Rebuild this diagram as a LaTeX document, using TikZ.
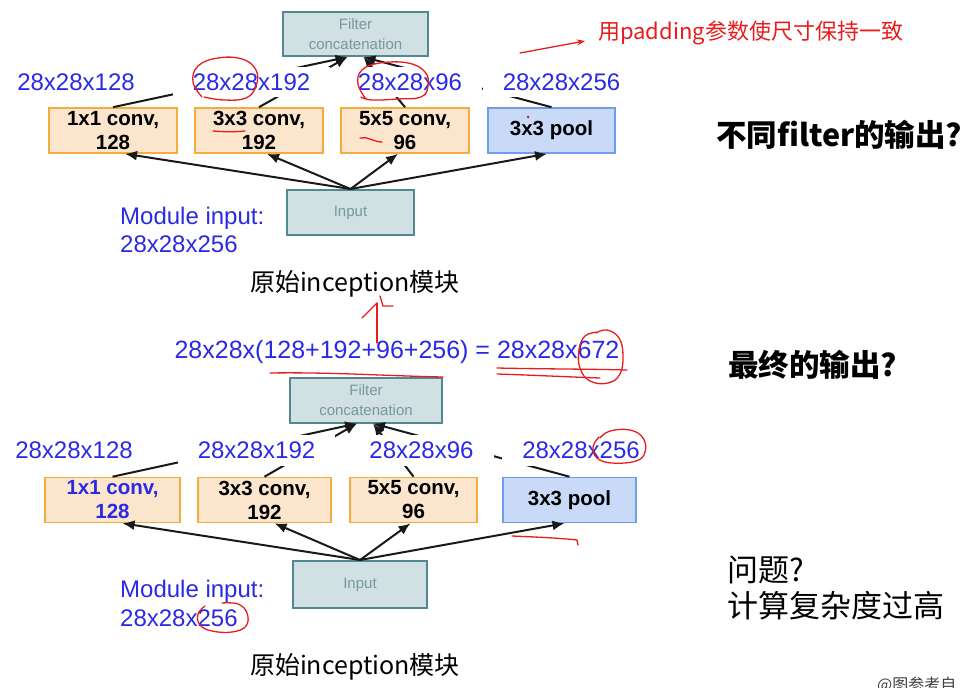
\documentclass[tikz,border=0pt]{standalone}
\usepackage{fontspec}
\setmainfont{Liberation Sans}
\newfontfamily\cjk{Noto Sans CJK SC}
\usetikzlibrary{arrows.meta}

\definecolor{dimblue}{RGB}{42,42,228}
\definecolor{convfill}{RGB}{252,229,205}
\definecolor{convdraw}{RGB}{243,172,62}
\definecolor{poolfill}{RGB}{201,218,248}
\definecolor{pooldraw}{RGB}{109,158,235}
\definecolor{tealfill}{RGB}{208,224,227}
\definecolor{tealdraw}{RGB}{82,136,146}
\definecolor{tealtext}{RGB}{120,152,158}
\definecolor{penred}{RGB}{232,28,28}

\tikzset{
  dimlabel/.style={fill=white, text=dimblue, inner xsep=20pt, inner ysep=7pt,
    font=\fontsize{24}{28}\selectfont},
  convbox/.style={draw=convdraw, fill=convfill, line width=1.6pt,
    minimum width=#1, minimum height=45pt, inner sep=0pt, align=center,
    font=\bfseries\fontsize{20.5}{24}\selectfont},
  poolbox/.style={draw=pooldraw, fill=poolfill, line width=1.6pt,
    minimum width=#1, minimum height=45pt, inner sep=0pt, align=center,
    font=\bfseries\fontsize{20.5}{24}\selectfont},
  tealbox/.style={draw=tealdraw, fill=tealfill, line width=2pt,
    minimum width=#1, minimum height=45pt, inner sep=0pt, align=center,
    text=tealtext, font=\fontsize{15}{20}\selectfont},
  flow/.style={draw=black!90, line width=2pt, -{Latex[length=12pt,width=10pt]}},
  modtext/.style={text=dimblue, inner sep=0pt, anchor=base west,
    font=\fontsize{24}{28}\selectfont},
  caption/.style={font=\cjk\fontsize{25}{30}\selectfont, inner sep=0pt},
  sidenote/.style={font=\cjk\fontsize{31}{36}\selectfont, inner sep=0pt, anchor=west},
  boldnote/.style={font=\cjk\bfseries\fontsize{30.5}{36}\selectfont, inner sep=0pt, anchor=west},
  redpen/.style={draw=penred, line width=1.3pt, line cap=round, line join=round},
}

\begin{document}
\begin{tikzpicture}[x=1pt,y=-1pt]
\useasboundingbox (0,0) rectangle (962,688);

% ---------------- upper inception module ----------------
\node[tealbox=145pt, minimum height=44pt] (catA) at (355.5,34) {Filter\\concatenation};
\node[convbox=128pt] (c1A) at (113,130.5) {1x1 conv,\\128};
\node[convbox=128pt] (c2A) at (259,130.5) {3x3 conv,\\192};
\node[convbox=128pt] (c3A) at (405,130.5) {5x5 conv,\\96};
\node[poolbox=127pt] (plA) at (551.5,130.5) {3x3 pool};
\node[tealbox=127pt] (inA) at (350.5,212.5) {Input};

\draw[flow] (c1A.north) -- ([xshift=-8pt]catA.south);
\draw[flow] (c2A.north) -- ([xshift=-8pt]catA.south);
\draw[flow] (c3A.north) -- ([xshift=8pt]catA.south);
\draw[flow] (plA.north) -- ([xshift=8pt]catA.south);

\node[dimlabel] (d1A) at (76,82) {28x28x128};
\node[dimlabel] (d2A) at (251.5,82) {28x28x192};
\node[dimlabel] (d3A) at (410,82) {28x28x96};
\node[dimlabel] (d4A) at (561.5,82) {28x28x256};

\draw[flow] (inA.north) -- ([xshift=12pt]c1A.south);
\draw[flow] (inA.north) -- ([xshift=8pt]c2A.south);
\draw[flow] (inA.north) -- ([xshift=-7pt]c3A.south);
\draw[flow] (inA.north) -- ([xshift=-4.5pt]plA.south);

\node[modtext] (mA1) at (120,224) {Module input:};
\node[modtext] (mA2) at (120,252) {28x28x256};
\node[caption] (capA) at (355,284) {原始inception模块};

% ---------------- combined output size ----------------
\node[text=dimblue, inner sep=0pt, font=\fontsize{25}{30}\selectfont] (total) at (397,352)
  {28x28x(128+192+96+256) = 28x28x672};

% ---------------- lower inception module ----------------
\node[tealbox=152pt] (catB) at (366,400) {Filter\\concatenation};
\node[convbox=135pt, text=dimblue] (c1B) at (112.5,500) {1x1 conv,\\128};
\node[convbox=133pt] (c2B) at (264.5,500) {3x3 conv,\\192};
\node[convbox=127pt] (c3B) at (413.5,500) {5x5 conv,\\96};
\node[poolbox=133pt] (plB) at (569.5,500) {3x3 pool};
\node[tealbox=134pt, minimum height=47pt] (inB) at (360,584.5) {Input};

\draw[flow] (c1B.north) -- ([xshift=-9pt]catB.south);
\draw[flow] (c2B.north) -- ([xshift=-9pt]catB.south);
\draw[flow] (c3B.north) -- ([xshift=7pt]catB.south);
\draw[flow] (plB.north) -- ([xshift=7pt]catB.south);

\node[dimlabel] (d1B) at (74,450) {28x28x128};
\node[dimlabel] (d2B) at (256.5,450) {28x28x192};
\node[dimlabel] (d3B) at (421.5,450) {28x28x96};
\node[dimlabel] (d4B) at (581,450) {28x28x256};

\draw[flow] (inB.north) -- ([xshift=10pt]c1B.south);
\draw[flow] (inB.north) -- ([xshift=10pt]c2B.south);
\draw[flow] (inB.north) -- ([xshift=-3pt]c3B.south);
\draw[flow] (inB.north) -- ([xshift=-5pt]plB.south);

\node[modtext] (mB1) at (120,597) {Module input:};
\node[modtext] (mB2) at (120,626) {28x28x256};
\node[caption] (capB) at (355,667) {原始inception模块};

% ---------------- notes on the right ----------------
\node[boldnote] (q1) at (716,135) {不同filter的输出?};
\node[boldnote] (q2) at (728,365) {最终的输出?};
\node[sidenote] (q3) at (727,570) {问题?};
\node[sidenote] (q4) at (727,606) {计算复杂度过高};
\node[anchor=north west, inner sep=0pt, text=black!75, font=\cjk\fontsize{16}{18}\selectfont]
  (src) at (877,677) {@图参考自};

% ---------------- red pen annotations ----------------
\node[anchor=west, inner sep=0pt, text=penred, font=\cjk\fontsize{22}{26}\selectfont]
  (padnote) at (598,33) {用padding参数使尺寸保持一致};
\coordinate (padtail) at (520,53);
\draw[redpen, -{Stealth[length=8pt,width=6pt]}] (padtail) -- ([xshift=-13pt,yshift=-8pt]padnote.west);

\draw[redpen] plot[smooth, tension=0.7] coordinates
  {(202,97) (193,82) (198,66) (218,58) (242,59) (256,70) (256,86) (246,98) (224,100) (204,97)};
\draw[redpen] plot[smooth, tension=0.7] coordinates
  {(366,99) (358,84) (362,70) (380,63) (408,63) (425,72) (428,86) (421,97) (398,99) (372,100) (361,97)};
\draw[redpen] (213,131) .. controls (225,132) and (235,132) .. (245,131);
\draw[redpen] (360,138) .. controls (367,136) and (374,142) .. (382,142);
\fill[penred] (528,117) circle (1.5);

\draw[redpen] (377,343) -- (377,303);
\draw[redpen] (362,318) -- (377,303);
\draw[redpen] (380,296) -- (383,306) -- (393,306);

\draw[redpen] (270,373) .. controls (330,372) and (390,376) .. (443,377);
\draw[redpen] (497,368) .. controls (540,369) and (590,369) .. (627,370);
\draw[redpen] (497,374) .. controls (530,375) and (570,377) .. (600,378);
\draw[redpen] plot[smooth, tension=0.7] coordinates
  {(598,332) (585,336) (579,350) (580,368) (590,381) (608,383) (620,374) (623,355) (619,338) (607,330) (596,333)};

\draw[redpen] plot[smooth, tension=0.7] coordinates
  {(600,438) (610,431) (630,430) (643,438) (645,452) (636,461) (612,463) (597,458) (593,447) (599,437)};
\draw[redpen] (512,536) .. controls (535,537) and (560,538) .. (577,540) -- (578,545);
\draw[redpen] plot[smooth, tension=0.7] coordinates
  {(205,606) (198,614) (200,625) (212,631) (232,632) (246,626) (247,613) (238,604) (222,603)};
\end{tikzpicture}
\end{document}
